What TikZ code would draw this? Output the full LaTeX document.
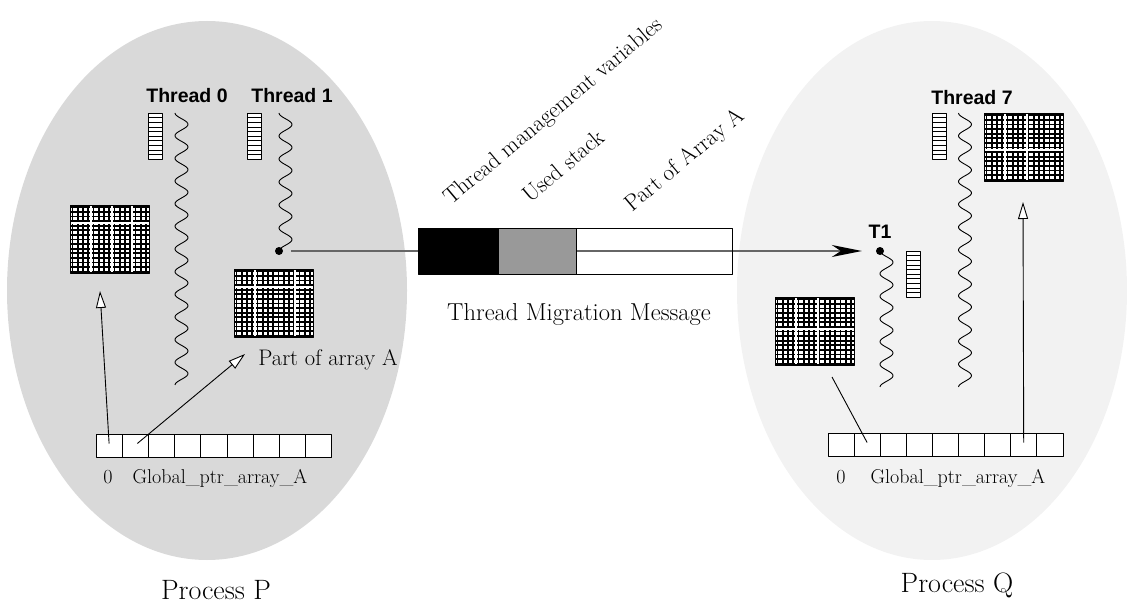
\documentclass[tikz,border=0pt]{standalone}
\usepackage{fontspec}
\newfontfamily\lsans{Liberation Sans}
\usetikzlibrary{arrows.meta,shapes.geometric}
\definecolor{procPfill}{HTML}{D9D9D9}
\definecolor{procQfill}{HTML}{F2F2F2}
\definecolor{stackgray}{HTML}{999999}
\definecolor{linegray}{HTML}{666666}
\newcommand\stk[3]{%
  \node[stackbox,anchor=north west] (#3) at (#1,#2) {};
  \foreach \k in {1,...,9} \draw[line width=0.5pt] ({#1},{#2+\k*4.6}) -- ++(14,0);
}
\newcommand\grd[5]{%
  \node[gridbox,anchor=north west] (#3) at (#1,#2) {};
  \foreach \k in {0,...,14} \draw[gvline] ({#1+2.5+\k*5.25},{#2}) -- ++(0,68);
  \foreach \k in {0,...,14} \draw[ghline] ({#1},{#2+2.3+\k*4.6}) -- ++(79,0);
  \foreach \s in {#4} \draw[gsep] ({#1+\s},{#2+1}) -- ++(0,66);
  \foreach \s in {#5} \draw[gsep] ({#1+1},{#2+\s}) -- ++(77,0);
  \draw[line width=0.8pt] (#3.north west) rectangle (#3.south east);
}
\begin{document}
\begin{tikzpicture}[x=1pt,y=-1pt,line join=round,
  stackbox/.style={draw,fill=white,minimum width=14pt,minimum height=46pt,inner sep=0pt,line width=0.8pt},
  gridbox/.style={fill=white,minimum width=79pt,minimum height=68pt,inner sep=0pt},
  gvline/.style={line width=1.9pt},
  ghline/.style={line width=1.7pt},
  gsep/.style={white,line width=1.3pt},
  cell/.style={draw,fill=white,minimum width=26.2pt,minimum height=23pt,inner sep=0pt,line width=0.8pt},
  wave/.style={line width=0.9pt},
  openarrow/.style={line width=0.9pt,-{Triangle[fill=white,length=17pt,width=10pt]}},
  msgline/.style={linegray,line width=1.3pt,-{Stealth[black,length=30pt,width=12pt,inset=9pt]}},
  lbl/.style={font=\fontsize{24.5}{28}\selectfont,inner sep=0pt},
  rotlbl/.style={font=\fontsize{23}{26}\selectfont,inner sep=0pt,rotate=40,anchor=base west},
  partlbl/.style={font=\fontsize{22.5}{26}\selectfont,inner sep=0pt},
  arrlbl/.style={font=\fontsize{20}{24}\selectfont,inner sep=0pt},
  thl/.style={font=\lsans\bfseries\fontsize{19.5}{22}\selectfont,inner sep=0pt},
  proc/.style={font=\fontsize{28}{32}\selectfont,inner sep=0pt},
  dotnode/.style={circle,fill=black,inner sep=0pt,minimum size=8pt},
  procbg/.style={ellipse,draw=none,inner sep=0pt}]
\useasboundingbox (0,0) rectangle (1127,604);
% processes
\node[procbg,fill=procPfill,minimum width=400pt,minimum height=539pt] (procP) at (207,290.5) {};
\node[procbg,fill=procQfill,minimum width=390pt,minimum height=539pt] (procQ) at (932,290.5) {};
\node[proc,anchor=base] (lblP) at (216,599) {Process P};
\node[proc,anchor=base] (lblQ) at (957,592) {Process Q};
% threads in P
\node[thl,anchor=base] (th0) at (187,103) {Thread 0};
\node[thl,anchor=base] (th1) at (292,103) {Thread 1};
\stk{148}{113}{stk0}
\stk{247}{113}{stk1}
\draw[wave] plot[domain=0:272,samples=240,smooth] ({181.5-6.5*cos(\x*15.882)},{113+\x});
\draw[wave] plot[domain=0:138,samples=140,smooth] ({285.5-6.5*cos(\x*15.652)},{113+\x});
\node[dotnode] (ldot) at (279,251) {};
% threads in Q
\node[thl,anchor=base] (th7) at (972,105) {Thread 7};
\node[thl,anchor=base] (tT1) at (880,238) {T1};
\stk{932}{113}{stk7}
\stk{906}{251}{stkT1}
\draw[wave] plot[domain=0:274,samples=240,smooth] ({965-6.5*cos(\x*15.766)},{113+\x});
\draw[wave] plot[domain=0:136,samples=140,smooth] ({886.5-6.5*cos(\x*15.882)},{251+\x});
\node[dotnode] (rdot) at (880,251) {};
% migration message
\draw[msgline,shorten <=8pt,shorten >=14pt] (ldot) -- (rdot);
\node[draw,fill=black,minimum width=80pt,minimum height=46pt,inner sep=0pt,anchor=north west,line width=0.8pt] (mvars) at (418,228) {};
\node[draw,fill=stackgray,minimum width=78pt,minimum height=46pt,inner sep=0pt,anchor=north west,line width=0.8pt] (mstack) at (498,228) {};
\node[draw,minimum width=156pt,minimum height=46pt,inner sep=0pt,anchor=north west,line width=0.8pt] (marr) at (576,228) {};
\node[rotlbl] (ltmv) at (451,206) {Thread management variables};
\node[rotlbl] (lus) at (530,204) {Used stack};
\node[rotlbl] (lpa) at (632,213) {Part of Array A};
\node[lbl,anchor=base] (ltmm) at (579,320) {Thread Migration Message};
% arrays of A
\grd{70}{205}{gL}{21,42,62}{18}
\grd{234}{269}{gP}{21,61}{18}
\grd{984}{113}{gT}{21,43}{37}
\grd{775}{297}{gQ}{21,43}{32}
\node[partlbl,anchor=base] (lpart) at (328,365) {Part of array A};
% global pointer arrays
\foreach \i in {0,...,8} \node[cell] (pa\i) at ({109.1+\i*26.2},445.5) {};
\foreach \i in {0,...,8} \node[cell] (qa\i) at ({841+\i*26.1},444.5) {};
\node[arrlbl,anchor=base] (pzero) at (108,483) {0};
\node[arrlbl,anchor=base] (pname) at (220,483) {Global\_ptr\_array\_A};
\node[arrlbl,anchor=base] (qzero) at (841,483) {0};
\node[arrlbl,anchor=base] (qname) at (958,483) {Global\_ptr\_array\_A};
% pointers
\coordinate (tipA) at (100,291);
\coordinate (tipB) at (245,354);
\coordinate (startQ) at (832,377);
\coordinate (tipQ) at (1023,202);
\draw[openarrow] ([yshift=2pt]pa0.center) -- (tipA);
\draw[openarrow] ([xshift=2pt,yshift=2pt]pa1.center) -- (tipB);
\draw[line width=0.9pt] (startQ) -- ([yshift=2pt]qa1.center);
\draw[openarrow] ([yshift=2pt]qa7.center) -- (tipQ);
\end{tikzpicture}
\end{document}
